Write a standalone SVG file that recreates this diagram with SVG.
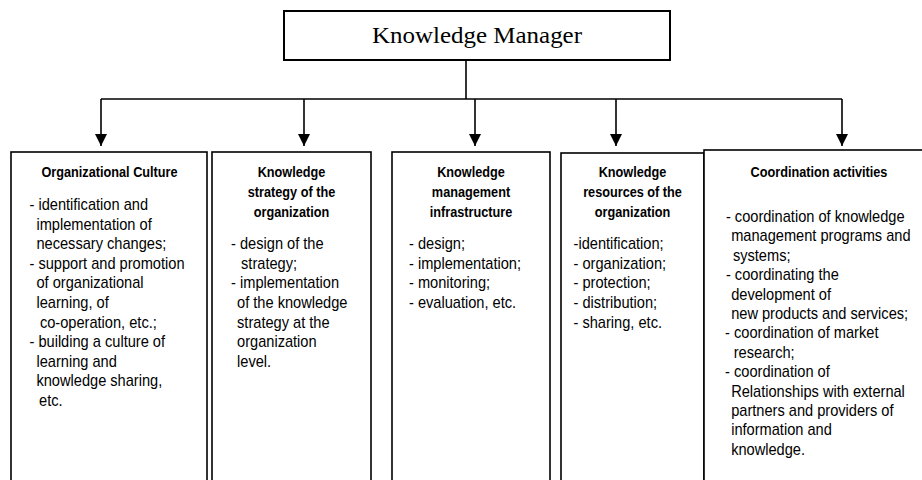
<svg xmlns="http://www.w3.org/2000/svg" width="922" height="480" viewBox="0 0 922 480">
  <style>
    .frame { fill: #ffffff; stroke: #000000; stroke-width: 1.6; }
    .head-frame { fill: #ffffff; stroke: #000000; stroke-width: 2; }
    .link { fill: none; stroke: #000000; stroke-width: 1.6; }
    .head { font-family: "Liberation Serif", "Times New Roman", serif; font-size: 23px; fill: #000000; }
    .title { font-family: "Liberation Sans", Arial, sans-serif; font-size: 14.6px; font-weight: bold; fill: #000000; text-anchor: middle; }
    .item { font-family: "Liberation Sans", Arial, sans-serif; font-size: 16.8px; fill: #000000; }
  </style>
  <defs>
    <marker id="arrow" markerUnits="userSpaceOnUse" markerWidth="12" markerHeight="12" refX="12" refY="6" orient="auto">
      <path d="M0,0 L12,6 L0,12 Z" fill="#000000"/>
    </marker>
  </defs>

  <rect x="0" y="0" width="922" height="480" fill="#ffffff"/>

  <!-- connectors -->
  <g id="connectors">
    <path class="link" d="M466,60 L466,99"/>
    <path class="link" d="M101,99 L842,99"/>
    <path class="link" d="M101,99 L101,146" marker-end="url(#arrow)"/>
    <path class="link" d="M304,99 L304,146" marker-end="url(#arrow)"/>
    <path class="link" d="M475,99 L475,146" marker-end="url(#arrow)"/>
    <path class="link" d="M616,99 L616,146" marker-end="url(#arrow)"/>
    <path class="link" d="M842,99 L842,146" marker-end="url(#arrow)"/>
  </g>

  <!-- top node -->
  <g id="knowledge-manager">
    <rect class="head-frame" x="284" y="11" width="386" height="49"/>
    <text class="head" x="372" y="43" textLength="210" lengthAdjust="spacingAndGlyphs">Knowledge Manager</text>
  </g>

  <!-- organizational culture -->
  <g id="organizational-culture">
    <rect class="frame" x="11" y="152" width="196" height="340"/>
    <g transform="translate(109.5 0) scale(0.87 1)">
      <text class="title" x="0" y="177">Organizational Culture</text>
      <text class="item" x="-92" y="210">- identification and</text>
      <text class="item" x="-84" y="229.6">implementation of</text>
      <text class="item" x="-84" y="249.2">necessary changes;</text>
      <text class="item" x="-92" y="268.8">- support and promotion</text>
      <text class="item" x="-84" y="288.4">of organizational</text>
      <text class="item" x="-84" y="308">learning, of</text>
      <text class="item" x="-80" y="327.6">co-operation, etc.;</text>
      <text class="item" x="-92" y="347.2">- building a culture of</text>
      <text class="item" x="-84" y="366.8">learning and</text>
      <text class="item" x="-84" y="386.4">knowledge sharing,</text>
      <text class="item" x="-81" y="406">etc.</text>
    </g>
  </g>

  <!-- knowledge strategy -->
  <g id="knowledge-strategy">
    <rect class="frame" x="212" y="152" width="159" height="340"/>
    <g transform="translate(291.5 0) scale(0.87 1)">
      <text class="title" x="0" y="177">Knowledge</text>
      <text class="title" x="0" y="197">strategy of the</text>
      <text class="title" x="0" y="217">organization</text>
      <text class="item" x="-69.5" y="249.2">- design of the</text>
      <text class="item" x="-58" y="268.8">strategy;</text>
      <text class="item" x="-69.5" y="288.4">- implementation</text>
      <text class="item" x="-62.6" y="308">of the knowledge</text>
      <text class="item" x="-62.6" y="327.6">strategy at the</text>
      <text class="item" x="-62.6" y="347.2">organization</text>
      <text class="item" x="-62.6" y="366.8">level.</text>
    </g>
  </g>

  <!-- management infrastructure -->
  <g id="management-infrastructure">
    <rect class="frame" x="392" y="152" width="158" height="340"/>
    <g transform="translate(471 0) scale(0.87 1)">
      <text class="title" x="0" y="177">Knowledge</text>
      <text class="title" x="0" y="197">management</text>
      <text class="title" x="0" y="217">infrastructure</text>
      <text class="item" x="-71.3" y="249.2">- design;</text>
      <text class="item" x="-71.3" y="268.8">- implementation;</text>
      <text class="item" x="-71.3" y="288.4">- monitoring;</text>
      <text class="item" x="-71.3" y="308">- evaluation, etc.</text>
    </g>
  </g>

  <!-- knowledge resources -->
  <g id="knowledge-resources">
    <rect class="frame" x="561" y="153" width="143" height="340"/>
    <g transform="translate(632.5 0) scale(0.87 1)">
      <text class="title" x="0" y="177">Knowledge</text>
      <text class="title" x="0" y="197">resources of the</text>
      <text class="title" x="0" y="217">organization</text>
      <text class="item" x="-67.8" y="249.2">-identification;</text>
      <text class="item" x="-67.8" y="268.8">- organization;</text>
      <text class="item" x="-67.8" y="288.4">- protection;</text>
      <text class="item" x="-67.8" y="308">- distribution;</text>
      <text class="item" x="-67.8" y="327.6">- sharing, etc.</text>
    </g>
  </g>

  <!-- coordination activities -->
  <g id="coordination-activities">
    <rect class="frame" x="704" y="150" width="230" height="340"/>
    <g transform="translate(819 0) scale(0.87 1)">
      <text class="title" x="0" y="177">Coordination activities</text>
      <text class="item" x="-107" y="222">- coordination of knowledge</text>
      <text class="item" x="-101" y="241.4">management programs and</text>
      <text class="item" x="-99" y="260.8">systems;</text>
      <text class="item" x="-107" y="280.2">- coordinating the</text>
      <text class="item" x="-101" y="299.6">development of</text>
      <text class="item" x="-101" y="319">new products and services;</text>
      <text class="item" x="-108" y="338.4">- coordination of market</text>
      <text class="item" x="-98" y="357.8">research;</text>
      <text class="item" x="-108" y="377.2">- coordination of</text>
      <text class="item" x="-101" y="396.6">Relationships with external</text>
      <text class="item" x="-101" y="416">partners and providers of</text>
      <text class="item" x="-101" y="435.4">information and</text>
      <text class="item" x="-101" y="454.8">knowledge.</text>
    </g>
  </g>
</svg>
